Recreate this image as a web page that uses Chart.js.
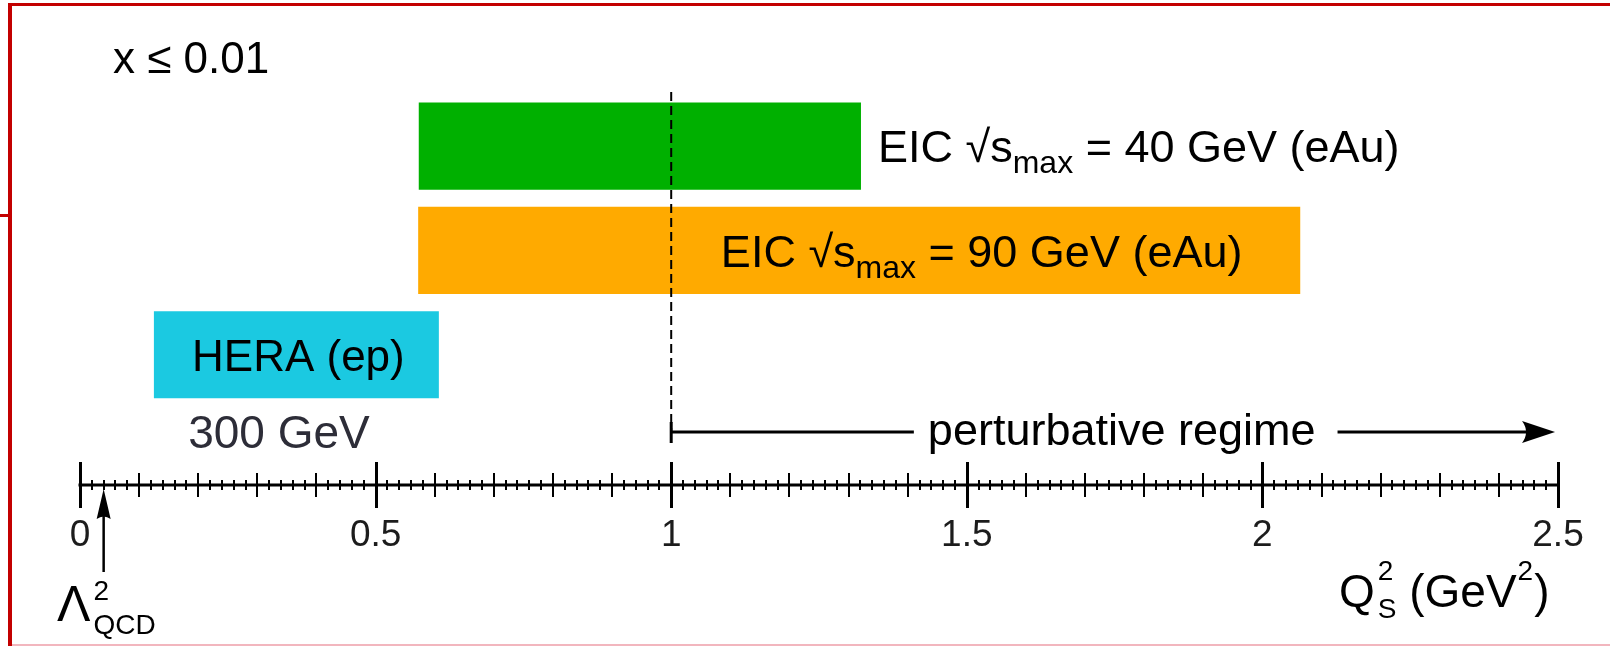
<!DOCTYPE html>
<html>
<head>
<meta charset="utf-8">
<script src="https://cdn.jsdelivr.net/npm/chart.js@4/dist/chart.umd.min.js"></script>
<style>
  html, body { margin: 0; padding: 0; background: #fff; }
  #wrap { position: relative; width: 1610px; height: 646px; overflow: hidden; background: #fff; }
  #c { position: absolute; left: 0; top: 0; }
  .rule { position: absolute; pointer-events: none; }
</style>
</head>
<body>
<div id="wrap">
  <canvas id="c" width="1610" height="646"></canvas>
  <div class="rule" style="left:8px;top:3px;width:1602px;height:3px;background:#c30000"></div>
  <div class="rule" style="left:8px;top:3px;width:4px;height:643px;background:#c30000"></div>
  <div class="rule" style="left:0;top:214px;width:10px;height:3px;background:#c30000"></div>
  <div class="rule" style="left:12px;top:644px;width:1598px;height:2px;background:#f2b6be"></div>
</div>
<script>
// Saturation-scale coverage of each collider, in Q_s^2 (GeV^2)
const experiments = ['EIC 40 GeV (eAu)', 'EIC 90 GeV (eAu)', 'HERA (ep)'];
const rowIndex    = [3, 2, 1];
const qsLow       = [0.573, 0.572, 0.125];
const qsHigh      = [1.321, 2.064, 0.607];
const barColors   = ['#00b000', '#ffaa00', '#1bc9e1'];

const xTicks      = [0, 0.5, 1, 1.5, 2, 2.5];
const xTickLabels = ['0', '0.5', '1', '1.5', '2', '2.5'];

const lambdaQCD2        = 0.04;   // Λ²_QCD marker
const perturbativeStart = 1;      // Q_s^2 above which weak coupling holds
const axisMin = 0, axisMax = 2.5;

const FONT = "'Liberation Sans', Arial, Helvetica, sans-serif";

function line(ctx, x1, y1, x2, y2) {
  ctx.beginPath(); ctx.moveTo(x1, y1); ctx.lineTo(x2, y2); ctx.stroke();
}

// Text runs with sub/superscripts; a part may stack a sup over a sub.
function richText(ctx, x, y, parts, align) {
  const widthOf = p => {
    ctx.font = `${p.size}px ${FONT}`;
    if (p.stack) return Math.max(ctx.measureText(p.sup).width, ctx.measureText(p.sub).width);
    return ctx.measureText(p.t).width;
  };
  const widths = parts.map(widthOf);
  const total = widths.reduce((a, b) => a + b, 0) + parts.reduce((a, p) => a + (p.gap || 0), 0);
  let cx = align === 'center' ? x - total / 2 : x;
  const start = cx;
  ctx.textAlign = 'left';
  ctx.textBaseline = 'alphabetic';
  parts.forEach((p, i) => {
    ctx.font = `${p.size}px ${FONT}`;
    if (p.stack) {
      ctx.fillText(p.sup, cx, y + p.supDy);
      ctx.fillText(p.sub, cx, y + p.subDy);
    } else {
      ctx.fillText(p.t, cx, y + (p.dy || 0));
    }
    cx += widths[i] + (p.gap || 0);
  });
  return { left: start, right: cx };
}

function arrowHead(ctx, tx, ty, dir, len, half, notch) {
  // dir: unit vector pointing toward the tip
  const [dx, dy] = dir;
  const nx = -dy, ny = dx;
  ctx.beginPath();
  ctx.moveTo(tx, ty);
  ctx.lineTo(tx - dx * len + nx * half, ty - dy * len + ny * half);
  ctx.quadraticCurveTo(tx - dx * (len - notch), ty - dy * (len - notch),
                       tx - dx * len - nx * half, ty - dy * len - ny * half);
  ctx.closePath();
  ctx.fill();
}

const overlay = {
  id: 'overlay',
  afterDraw(chart) {
    const { ctx } = chart;
    const xs = chart.scales.x, ys = chart.scales.y;
    const X = v => xs.getPixelForValue(v);
    const axisY = xs.top;
    ctx.save();
    ctx.fillStyle = '#000';
    ctx.strokeStyle = '#000';

    // axis line with minor (0.02), medium (0.1) and major (0.5) ticks
    ctx.lineWidth = 3;
    line(ctx, X(axisMin) - 1.5, axisY, X(axisMax) + 1.5, axisY);
    const nSteps = Math.round((axisMax - axisMin) / 0.02);
    for (let i = 0; i <= nSteps; i++) {
      const major = i % 25 === 0, medium = i % 5 === 0;
      const half = major ? 23 : medium ? 12 : 5;
      ctx.lineWidth = major ? 3 : 2;
      const px = Math.round(X(axisMin + i * 0.02)) + (major ? 0.5 : 0);
      line(ctx, px, axisY - half, px, axisY + half);
    }

    // boundary of the perturbative regime
    const xp = X(perturbativeStart);
    ctx.lineWidth = 2;
    ctx.setLineDash([9, 5]);
    line(ctx, xp, 92, xp, 432);
    ctx.setLineDash([]);

    // perturbative regime arrow
    const ay = 432;
    ctx.font = `45px ${FONT}`;
    ctx.textBaseline = 'alphabetic';
    const label = 'perturbative regime';
    const lw = ctx.measureText(label).width;
    const lc = X(1.762);
    ctx.textAlign = 'center';
    ctx.fillText(label, lc, ay + 13);
    ctx.lineWidth = 3;
    line(ctx, xp, ay, lc - lw / 2 - 14, ay);
    line(ctx, xp, ay - 10, xp, ay + 11);
    const tip = X(2.495);
    line(ctx, lc + lw / 2 + 22, ay, tip - 20, ay);
    arrowHead(ctx, tip, ay, [1, 0], 33, 11, 8);

    // Λ²_QCD arrow and label
    const xl = X(lambdaQCD2);
    ctx.lineWidth = 2.5;
    line(ctx, xl, 572, xl, 505);
    arrowHead(ctx, xl, 489, [0, -1], 30, 7, 5);
    richText(ctx, 57, 621, [
      { t: 'Λ', size: 50, gap: 3 },
      { stack: true, sup: '2', sub: 'QCD', size: 28, supDy: -21, subDy: 13 }
    ]);

    // axis title
    richText(ctx, 1339, 607, [
      { t: 'Q', size: 46, gap: 3 },
      { stack: true, sup: '2', sub: 'S', size: 28, supDy: -27, subDy: 11, gap: 0 },
      { t: ' (GeV', size: 46, gap: 1 },
      { t: '2', size: 28, dy: -27, gap: 1 },
      { t: ')', size: 46 }
    ]);

    // kinematic cut
    ctx.textAlign = 'left';
    ctx.font = `44px ${FONT}`;
    ctx.fillText('x \u2264 0.01', 113, 73);

    // bar labels
    const y0 = ys.getPixelForValue(rowIndex[0]);
    richText(ctx, X(qsHigh[0]) + 17, y0 + 16, [
      { t: 'EIC \u221As', size: 45 },
      { t: 'max', size: 32, dy: 11 },
      { t: ' = 40 GeV (eAu)', size: 45 }
    ]);
    const y1 = ys.getPixelForValue(rowIndex[1]);
    richText(ctx, X(1.084), y1 + 17, [
      { t: 'EIC \u221As', size: 45 },
      { t: 'max', size: 32, dy: 11 },
      { t: ' = 90 GeV (eAu)', size: 45 }
    ]);
    const y2 = ys.getPixelForValue(rowIndex[2]);
    ctx.textAlign = 'center';
    ctx.font = `44px ${FONT}`;
    ctx.fillText('HERA (ep)', (X(qsLow[2]) + X(qsHigh[2])) / 2 + 2, y2 + 16);

    ctx.textAlign = 'left';
    ctx.fillStyle = '#2d2d38';
    ctx.font = `46px ${FONT}`;
    ctx.fillText('300 GeV', X(0.183), 448);

    ctx.restore();
  }
};

Chart.defaults.font.family = FONT;

// tick labels sit below an invisible tick mark; keep padding small so the
// horizontal label padding stays inside the layout padding
const tickLen = 8, tickPad = 21, tickFont = 37;
new Chart(document.getElementById('c'), {
  type: 'bar',
  data: {
    datasets: [{
      data: experiments.map((name, i) => ({ x: [qsLow[i], qsHigh[i]], y: rowIndex[i] })),
      backgroundColor: barColors,
      borderWidth: 0,
      categoryPercentage: 1,
      barPercentage: 0.835
    }]
  },
  options: {
    indexAxis: 'y',
    responsive: false,
    animation: false,
    devicePixelRatio: 1,
    layout: { padding: { left: 80, right: 52, top: 21, bottom: 646 - 485 - (tickLen + 2 * tickPad + tickFont * 1.2) } },
    plugins: { legend: { display: false }, tooltip: { enabled: false } },
    scales: {
      x: {
        type: 'linear',
        position: 'bottom',
        min: axisMin,
        max: axisMax,
        afterBuildTicks: scale => { scale.ticks = xTicks.map(v => ({ value: v })); },
        ticks: {
          padding: tickPad,
          autoSkip: false,
          maxRotation: 0,
          color: '#1c1c1c',
          font: { size: tickFont },
          callback: (v, i) => xTickLabels[i]
        },
        grid: { display: true, drawOnChartArea: false, drawTicks: true, tickLength: tickLen, color: 'rgba(0,0,0,0)' },
        border: { display: false }
      },
      y: {
        type: 'linear', display: false, min: -0.25, max: 4.2, offset: false,
        afterBuildTicks: scale => { scale.ticks = rowIndex.map(v => ({ value: v })); }
      }
    }
  },
  plugins: [overlay]
});
</script>
</body>
</html>
